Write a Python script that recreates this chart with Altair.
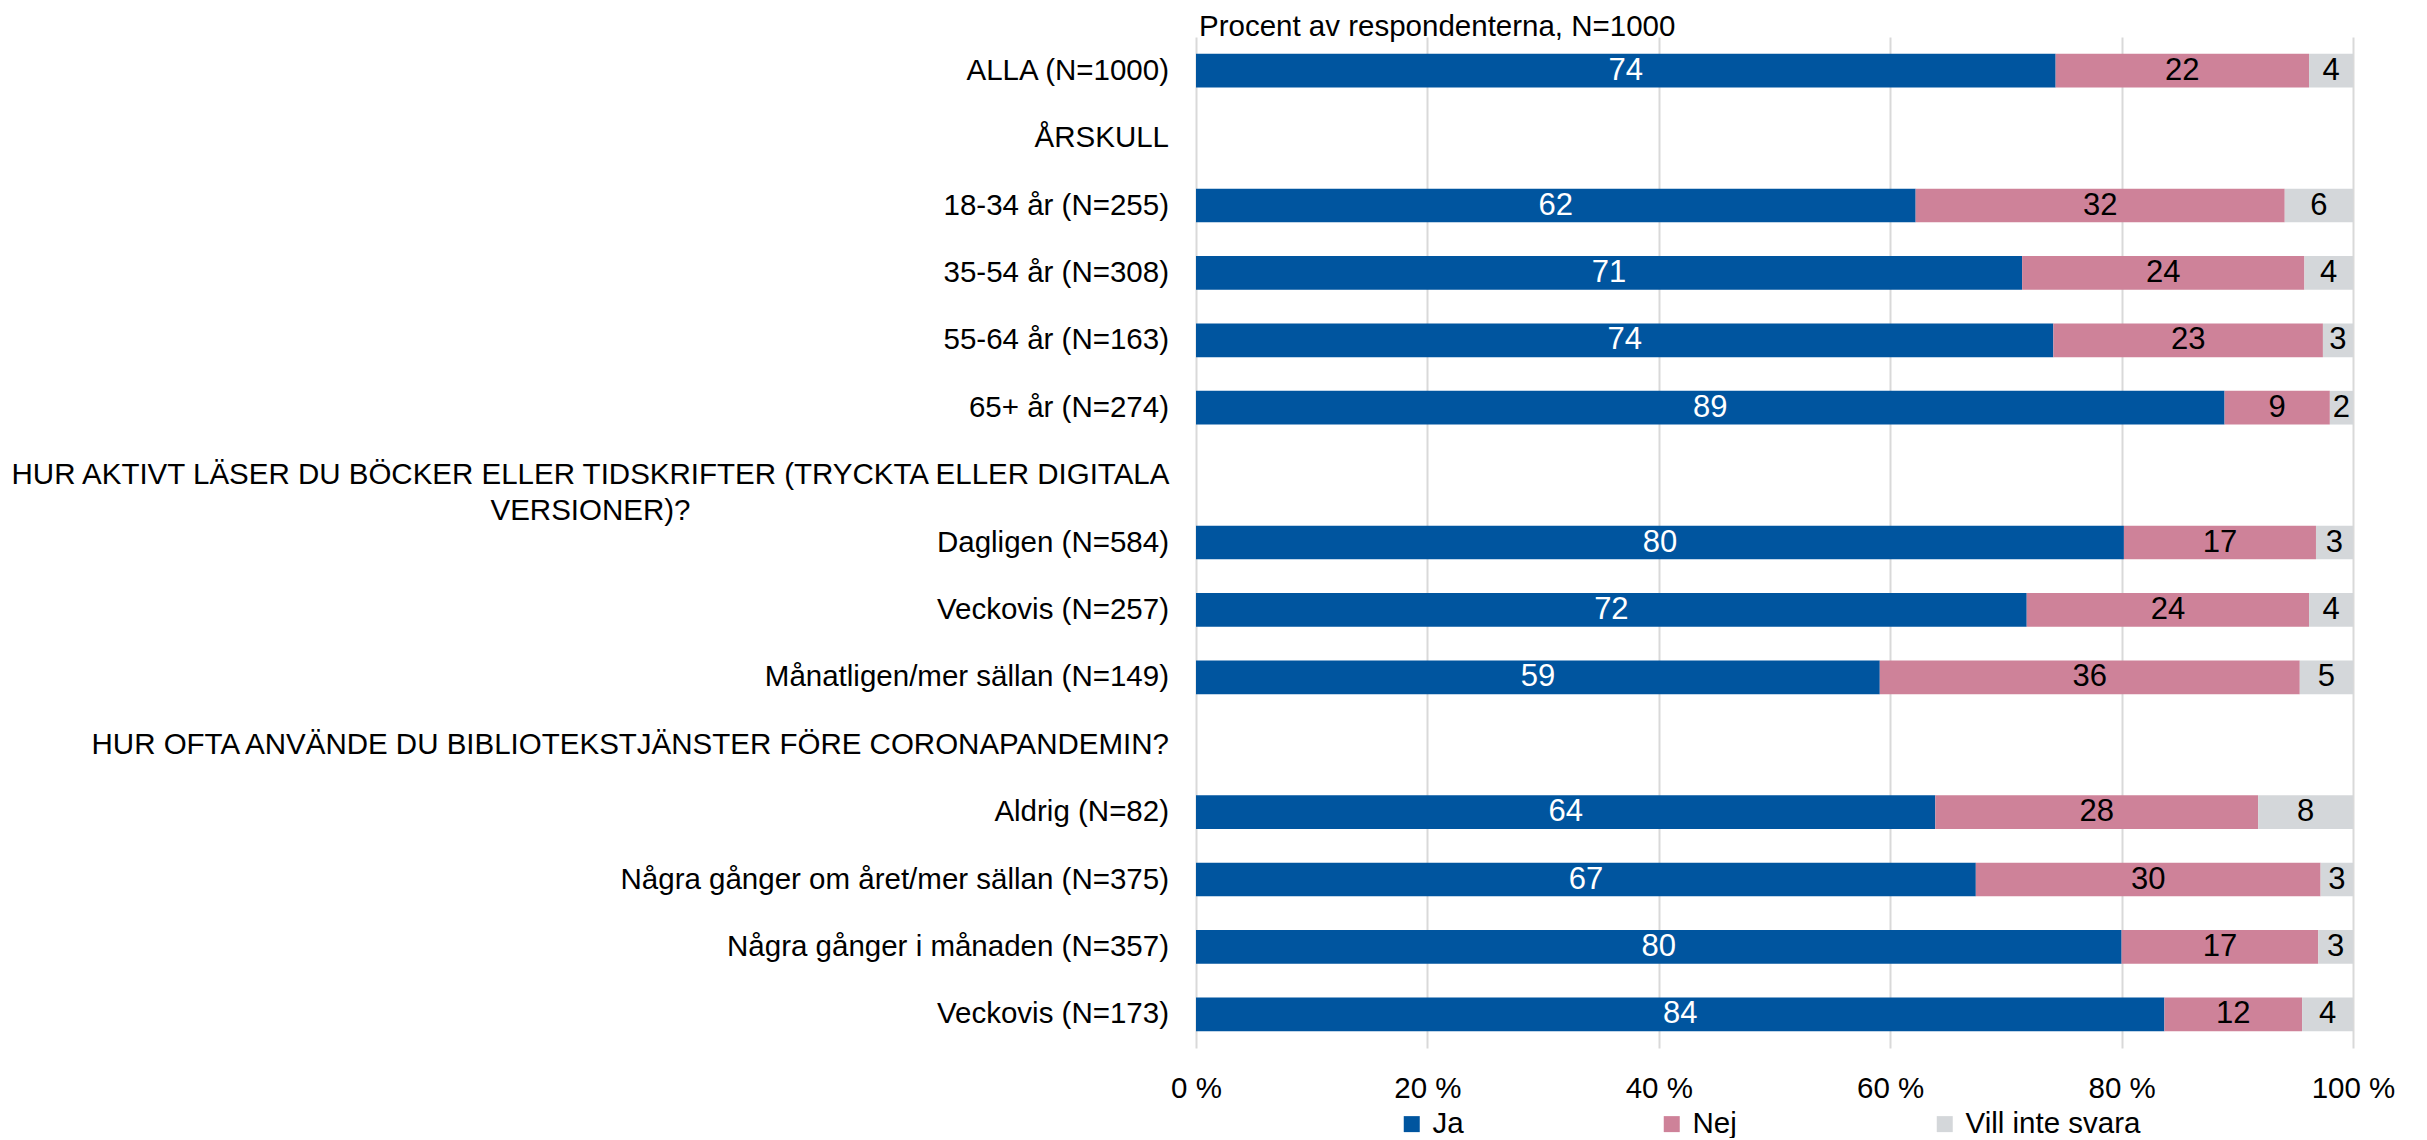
import altair as alt
import pandas as pd

# ---------------- data ----------------
rows = [
    "ALLA (N=1000)",
    "ÅRSKULL",
    "18-34 år (N=255)",
    "35-54 år (N=308)",
    "55-64 år (N=163)",
    "65+ år (N=274)",
    "HUR AKTIVT LÄSER DU BÖCKER ELLER TIDSKRIFTER (TRYCKTA ELLER DIGITALA\nVERSIONER)?",
    "Dagligen (N=584)",
    "Veckovis (N=257)",
    "Månatligen/mer sällan (N=149)",
    "HUR OFTA ANVÄNDE DU BIBLIOTEKSTJÄNSTER FÖRE CORONAPANDEMIN?",
    "Aldrig (N=82)",
    "Några gånger om året/mer sällan (N=375)",
    "Några gånger i månaden (N=357)",
    "Veckovis (N=173)",
]
centered_rows = [rows[6]]

ja = [74.3, None, 62.2, 71.4, 74.1, 88.9, None, 80.2, 71.8, 59.1, None, 63.9, 67.4, 80.0, 83.7]
nej = [21.9, None, 31.9, 24.4, 23.3, 9.1, None, 16.6, 24.4, 36.3, None, 27.9, 29.8, 17.0, 11.9]
vill = [3.8, None, 5.9, 4.2, 2.6, 2.0, None, 3.2, 3.8, 4.6, None, 8.2, 2.8, 3.0, 4.4]

answers = ["Ja", "Nej", "Vill inte svara"]
colors = ["#00559F", "#CE8299", "#D4D7DA"]

tick_values = [0, 20, 40, 60, 80, 100]
title_text = "Procent av respondenterna, N=1000"

# ---------------- tables ----------------
recs = []
for i, r in enumerate(rows):
    for k, (name, vals) in enumerate(zip(answers, [ja, nej, vill])):
        if vals[i] is not None:
            recs.append({"row": r, "svar": name, "ordning": k, "varde": vals[i]})
bars_df = pd.DataFrame(recs)
labels_df = pd.DataFrame({"row": rows, "centrerad": [r in centered_rows for r in rows]})

FONT = "Liberation Sans"
FS = 29.5
FS_VAL = 31

yscale = alt.Scale(domain=rows, paddingInner=0.5, paddingOuter=0.25)
y_enc = alt.Y("row:N", scale=yscale, axis=None)

base = alt.Chart(bars_df).transform_stack(
    stack="varde",
    groupby=["row"],
    as_=["x0", "x1"],
    sort=[alt.SortField("ordning", order="ascending")],
).transform_calculate(mid="(datum.x0 + datum.x1) / 2")

bars = base.mark_bar().encode(
    x=alt.X(
        "x0:Q",
        scale=alt.Scale(domain=[0, 100], nice=False),
        axis=alt.Axis(
            values=tick_values,
            labelExpr="datum.value + ' %'",
            grid=True,
            gridColor="#D9D9D9",
            gridWidth=2,
            domain=False,
            ticks=False,
            labelFont=FONT,
            labelFontSize=FS,
            labelColor="black",
            labelBaseline="middle",
            labelPadding=40,
            labelFlush=False,
            labelOverlap=False,
            title=None,
        ),
    ),
    x2="x1:Q",
    y=y_enc,
    color=alt.Color(
        "svar:N",
        scale=alt.Scale(domain=answers, range=colors),
        legend=alt.Legend(
            orient="none",
            legendX=201,
            legendY=1072,
            direction="horizontal",
            title=None,
            symbolType="square",
            symbolSize=256,
            symbolStrokeWidth=0,
            labelFont=FONT,
            labelFontSize=FS,
            labelColor="black",
            labelOffset=6,
            labelLimit=0,
            columnPadding=193,
            padding=0,
        ),
    ),
)

values = base.mark_text(font=FONT, fontSize=FS_VAL, baseline="middle", align="center").encode(
    x="mid:Q",
    y=y_enc,
    text=alt.Text("varde:Q", format=".0f"),
    color=alt.condition("datum.svar == 'Ja'", alt.value("white"), alt.value("black")),
)

ylabels = alt.Chart(labels_df).transform_filter("!datum.centrerad").mark_text(
    align="right", baseline="middle", font=FONT, fontSize=FS, color="black"
).encode(x=alt.value(-27), y=y_enc, text="row:N")

ylabels_c = alt.Chart(labels_df).transform_filter("datum.centrerad").mark_text(
    align="center", baseline="middle", font=FONT, fontSize=FS, color="black",
    lineBreak="\n", lineHeight=35.6,
).encode(x=alt.value(-605.5), y=y_enc, text="row:N")

chart = alt.layer(bars, values, ylabels, ylabels_c).properties(
    width=1157,
    height=1011,
    autosize="none",
    padding={"left": 1188, "top": 29, "right": 60, "bottom": 90},
    title=alt.TitleParams(
        title_text,
        anchor="start",
        frame="group",
        font=FONT,
        fontSize=FS,
        fontWeight="normal",
        color="black",
        offset=-5,
        dx=3,
    ),
).configure_view(stroke=None)

chart.save("out.html", embed_options={"renderer": "svg", "actions": False})
